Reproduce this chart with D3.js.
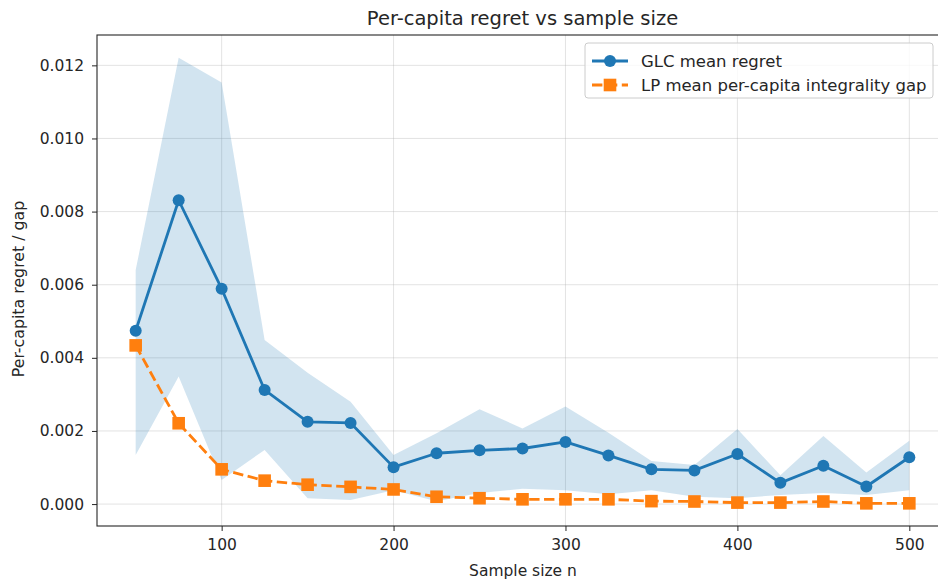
<!DOCTYPE html>
<html>
<head>
<meta charset="utf-8">
<script src="https://cdn.jsdelivr.net/npm/d3@7"></script>
<style>
  body { margin: 0; background: #fff; }
  text { font-family: "DejaVu Sans", sans-serif; fill: #262626; }
</style>
</head>
<body>
<div id="chart"></div>
<script>
// sample sizes
const sampleSizes = [50, 75, 100, 125, 150, 175, 200, 225, 250, 275, 300, 325, 350, 375, 400, 425, 450, 475, 500];

// GLC mean regret + band
const glcMean = [0.00474, 0.00831, 0.00589, 0.00312, 0.00225, 0.00222, 0.00101, 0.00139, 0.00147, 0.00152, 0.00170, 0.00133, 0.00095, 0.00092, 0.00137, 0.00058, 0.00105, 0.00048, 0.00128];
const glcUpper = [0.00640, 0.01221, 0.01153, 0.00449, 0.00359, 0.00280, 0.00134, 0.00194, 0.00259, 0.00207, 0.00267, 0.00195, 0.00118, 0.00107, 0.00205, 0.00079, 0.00186, 0.00086, 0.00173];
const glcLower = [0.00134, 0.00349, 0.00066, 0.00148, 0.00016, 0.00011, 0.00038, 0.00008, 0.00030, 0.00042, 0.00038, 0.00027, 0.00038, 0.00020, 0.00016, 0.00025, 0.00030, 0.00025, 0.00038];

// LP mean per-capita integrality gap
const lpGap = [0.00434, 0.00221, 0.00095, 0.00064, 0.00053, 0.00047, 0.00040, 0.00020, 0.00016, 0.00013, 0.00013, 0.00013, 0.00008, 0.00007, 0.00004, 0.00004, 0.00007, 0.00002, 0.00002];

const xTicks = [100, 200, 300, 400, 500];
const yTicks = [0, 0.002, 0.004, 0.006, 0.008, 0.010, 0.012];

const W = 938, H = 582;
const margin = {top: 35, left: 97};
const plotW = 851, plotH = 491;

const blue = "#1f77b4", orange = "#ff7f0e";

const svg = d3.select("#chart").append("svg")
    .attr("width", W)
    .attr("height", H);

const x = d3.scaleLinear().domain([27.5, 522.5]).range([margin.left, margin.left + plotW]);
const y = d3.scaleLinear().domain([-0.0006, 0.01283]).range([margin.top + plotH, margin.top]);

svg.append("clipPath").attr("id", "clip")
    .append("rect")
    .attr("x", margin.left).attr("y", margin.top)
    .attr("width", plotW).attr("height", plotH);

// grid
const grid = svg.append("g").attr("stroke", "#b0b0b0").attr("stroke-opacity", 0.35).attr("stroke-width", 1);
grid.selectAll(".gx").data(xTicks).join("line")
    .attr("x1", d => x(d)).attr("x2", d => x(d))
    .attr("y1", margin.top).attr("y2", margin.top + plotH);
grid.selectAll(".gy").data(yTicks).join("line")
    .attr("x1", margin.left).attr("x2", margin.left + plotW)
    .attr("y1", d => y(d)).attr("y2", d => y(d));

const rows = sampleSizes.map((n, i) => ({n, mean: glcMean[i], lo: glcLower[i], hi: glcUpper[i], lp: lpGap[i]}));

const plot = svg.append("g").attr("clip-path", "url(#clip)");

// band
plot.append("path")
    .datum(rows)
    .attr("fill", blue)
    .attr("fill-opacity", 0.2)
    .attr("d", d3.area().x(d => x(d.n)).y0(d => y(d.lo)).y1(d => y(d.hi)));

// GLC line
plot.append("path")
    .datum(rows)
    .attr("fill", "none")
    .attr("stroke", blue)
    .attr("stroke-width", 2.8)
    .attr("stroke-linejoin", "round")
    .attr("d", d3.line().x(d => x(d.n)).y(d => y(d.mean)));
plot.selectAll(".dot").data(rows).join("circle")
    .attr("cx", d => x(d.n)).attr("cy", d => y(d.mean))
    .attr("r", 6).attr("fill", blue);

// LP line
plot.append("path")
    .datum(rows)
    .attr("fill", "none")
    .attr("stroke", orange)
    .attr("stroke-width", 2.8)
    .attr("stroke-dasharray", "10.4,4.5")
    .attr("d", d3.line().x(d => x(d.n)).y(d => y(d.lp)));
plot.selectAll(".sq").data(rows).join("rect")
    .attr("x", d => x(d.n) - 6.3).attr("y", d => y(d.lp) - 6.3)
    .attr("width", 12.6).attr("height", 12.6).attr("fill", orange);

// axes
const xAxis = svg.append("g")
    .attr("transform", `translate(0,${margin.top + plotH})`)
    .call(d3.axisBottom(x).tickValues(xTicks).tickSize(5).tickPadding(8).tickFormat(d3.format("d")));
const yAxis = svg.append("g")
    .attr("transform", `translate(${margin.left},0)`)
    .call(d3.axisLeft(y).tickValues(yTicks).tickSize(5).tickPadding(8).tickFormat(d3.format(".3f")));
[xAxis, yAxis].forEach(a => {
    a.selectAll("text").style("font-size", "15.5px").attr("fill", "#262626");
    a.selectAll("line").attr("stroke", "#262626");
    a.select(".domain").remove();
});

// spines
svg.append("rect")
    .attr("x", margin.left).attr("y", margin.top)
    .attr("width", plotW).attr("height", plotH)
    .attr("fill", "none").attr("stroke", "#262626").attr("stroke-width", 1.1);

// titles
svg.append("text")
    .attr("x", margin.left + plotW / 2).attr("y", 25)
    .attr("text-anchor", "middle")
    .style("font-size", "19.5px")
    .text("Per-capita regret vs sample size");
svg.append("text")
    .attr("x", 523).attr("y", 576)
    .attr("text-anchor", "middle")
    .style("font-size", "15.5px")
    .text("Sample size n");
svg.append("text")
    .attr("transform", `translate(24,289) rotate(-90)`)
    .attr("text-anchor", "middle")
    .style("font-size", "15.8px")
    .text("Per-capita regret / gap");

// legend
const lg = svg.append("g").attr("transform", "translate(585,43)");
lg.append("rect")
    .attr("width", 348).attr("height", 55).attr("rx", 3)
    .attr("fill", "#fff").attr("fill-opacity", 0.8)
    .attr("stroke", "#cccccc");
lg.append("line").attr("x1", 7).attr("x2", 43).attr("y1", 18).attr("y2", 18)
    .attr("stroke", blue).attr("stroke-width", 2.8);
lg.append("circle").attr("cx", 25).attr("cy", 18).attr("r", 6).attr("fill", blue);
lg.append("line").attr("x1", 7).attr("x2", 43).attr("y1", 42).attr("y2", 42)
    .attr("stroke", orange).attr("stroke-width", 2.8).attr("stroke-dasharray", "10.4,4.5");
lg.append("rect").attr("x", 25 - 6.3).attr("y", 42 - 6.3).attr("width", 12.6).attr("height", 12.6).attr("fill", orange);
lg.append("text").attr("x", 56).attr("y", 24).style("font-size", "16.5px").text("GLC mean regret");
lg.append("text").attr("x", 56).attr("y", 48).style("font-size", "16.5px").text("LP mean per-capita integrality gap");
</script>
</body>
</html>
